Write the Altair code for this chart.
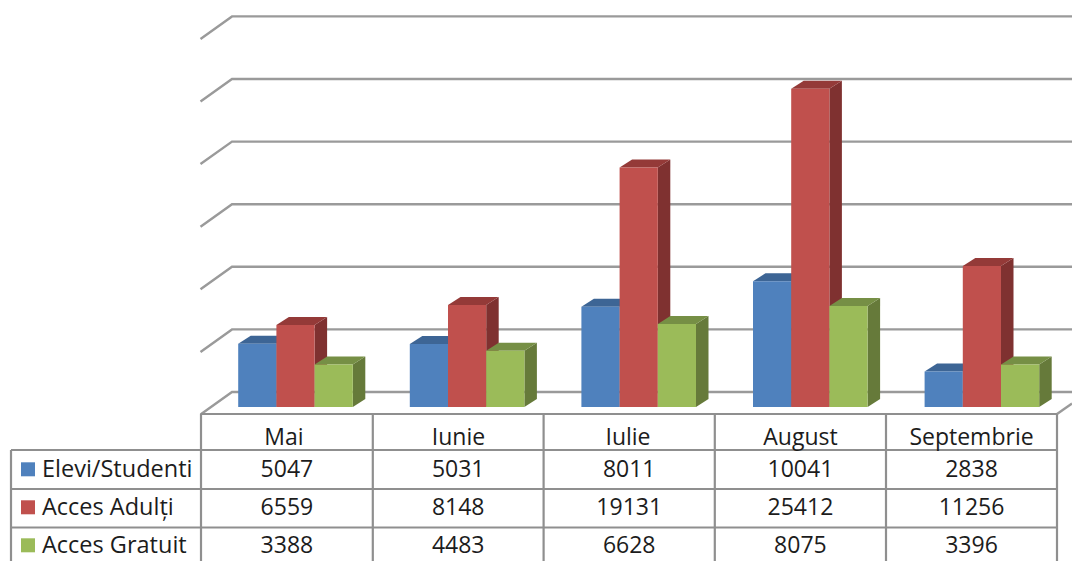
import altair as alt
import pandas as pd

months = ["Mai", "Iunie", "Iulie", "August", "Septembrie"]
series = ["Elevi/Studenti", "Acces Adulți", "Acces Gratuit"]
elevi = [5047, 5031, 8011, 10041, 2838]
adulti = [6559, 8148, 19131, 25412, 11256]
gratuit = [3388, 4483, 6628, 8075, 3396]
grid_values = [0, 5000, 10000, 15000, 20000, 25000, 30000]
front = ["#4f81bd", "#c0504d", "#9bbb59"]
side = ["#3a6190", "#7f3130", "#667a3a"]
top = ["#3d6595", "#943a38", "#768f45"]
GRID = "#9a9a9a"
LINE = "#8f8f8f"
TEXT = "#1c1c1c"
FONT = "Open Sans"
FS = 23

W, H = 1064, 553
X0, XS = 295.5, 171.6          # page px of first category, px per category
Y0, YS = 407.0, 0.01252        # page px of value 0, px per unit value


def ux(px):
    return (px - X0) / XS


def uy(py):
    return (Y0 - py) / YS


x_scale = alt.Scale(domain=[ux(8), ux(8 + W)], range=[0, W], nice=False, zero=False)
y_scale = alt.Scale(domain=[uy(8 + H), uy(8)], range=[H, 0], nice=False, zero=False)
X = lambda f: alt.X(f, type="quantitative", scale=x_scale, axis=None)
Y = lambda f: alt.Y(f, type="quantitative", scale=y_scale, axis=None)

BAR = 38.2 / XS
DX = 12.5 / XS
DY = 8.0 / YS
rows = [elevi, adulti, gratuit]

layers = []

# back wall and floor lines
back_x, floor_l, right = 232, 200.5, 8 + W
back_dy = 15 / YS
lines = []
for v in grid_values:
    yb = v + back_dy
    yf = yb - 22.5 / YS
    lines += [dict(g=f"g{v}", x=ux(floor_l), y=yf), dict(g=f"g{v}", x=ux(back_x), y=yb),
              dict(g=f"g{v}", x=ux(right), y=yb)]
layers.append(alt.Chart(pd.DataFrame(lines)).mark_line(color=GRID, strokeWidth=2.4).encode(
    x=X("x"), y=Y("y"), detail="g:N", order="x:Q"))
rd = pd.DataFrame([dict(x=ux(1057), y=uy(414)), dict(x=ux(8 + W), y=uy(414 - 15 * 16 / 23))])
layers.append(alt.Chart(rd).mark_line(color=GRID, strokeWidth=2.4).encode(x=X("x"), y=Y("y")))

# bars
for s, vals in enumerate(rows):
    off = (s - 1.5) * BAR
    side_rows, top_rows, front_rows = [], [], []
    for i, v in enumerate(vals):
        l = i + off
        r = l + BAR
        side_rows += [dict(g=i, x=r, y=v, y2=0), dict(g=i, x=r + DX, y=v + DY, y2=DY)]
        top_rows += [dict(g=i, y=v, x=l, x2=r), dict(g=i, y=v + DY, x=l + DX, x2=r + DX)]
        front_rows.append(dict(x=l, x2=r, y=v, y2=0))
    layers.append(alt.Chart(pd.DataFrame(side_rows)).mark_area(color=side[s], interpolate="linear").encode(
        x=X("x"), y=Y("y"), y2="y2:Q", detail="g:N"))
    layers.append(alt.Chart(pd.DataFrame(top_rows)).mark_area(color=top[s], orient="horizontal", interpolate="linear").encode(
        y=Y("y"), x=X("x"), x2="x2:Q", detail="g:N"))
    layers.append(alt.Chart(pd.DataFrame(front_rows)).mark_rect(color=front[s]).encode(
        x=X("x"), x2="x2:Q", y=Y("y"), y2="y2:Q"))

# data table
col_edges = [201, 372.8, 543.6, 714.8, 886, 1057]
row_edges = [414, 450, 489, 527.5]
bottom = 8 + H
rules = []
rules.append(dict(x=col_edges[0], x2=col_edges[-1], y=row_edges[0], y2=row_edges[0]))
for yy in row_edges[1:]:
    rules.append(dict(x=11, x2=col_edges[-1], y=yy, y2=yy))
for xx in col_edges:
    rules.append(dict(x=xx, x2=xx, y=row_edges[0], y2=bottom))
rules.append(dict(x=11, x2=11, y=row_edges[1], y2=bottom))
rdf = pd.DataFrame([dict(x=ux(r["x"]), x2=ux(r["x2"]), y=uy(r["y"]), y2=uy(r["y2"])) for r in rules])
layers.append(alt.Chart(rdf).mark_rule(color=LINE, strokeWidth=2.2).encode(
    x=X("x"), x2="x2:Q", y=Y("y"), y2="y2:Q"))

text_y = [470.3, 508.3, 546.3]
cell_center = [(col_edges[i] + col_edges[i + 1]) / 2 for i in range(5)]
header_center = [284, 458.5, 628, 800.5, 971.5]
cells = [dict(x=ux(header_center[i]), y=uy(438), t=m) for i, m in enumerate(months)]
for s, vals in enumerate(rows):
    cells += [dict(x=ux(cell_center[i]), y=uy(text_y[s]), t=str(v)) for i, v in enumerate(vals)]
layers.append(alt.Chart(pd.DataFrame(cells)).mark_text(
    font=FONT, fontSize=FS, color=TEXT, align="center", baseline="middle").encode(
    x=X("x"), y=Y("y"), text="t:N"))

leg = pd.DataFrame([dict(x=ux(42), y=uy(text_y[s]), ky=uy(text_y[s] - 1), kx=ux(28), t=series[s], c=front[s]) for s in range(3)])
layers.append(alt.Chart(leg).mark_text(
    font=FONT, fontSize=FS + 0.5, color=TEXT, align="left", baseline="middle").encode(
    x=X("x"), y=Y("y"), text="t:N"))
layers.append(alt.Chart(leg).mark_square(size=196, opacity=1).encode(
    x=X("kx"), y=Y("ky"), color=alt.Color("c:N", scale=None, legend=None)))

chart = alt.layer(*layers).properties(
    width=W, height=H, padding=0, autosize=alt.AutoSizeParams(type="none")
).configure_view(stroke=None)
chart.save("out.html", embed_options={"renderer": "svg", "actions": False})
